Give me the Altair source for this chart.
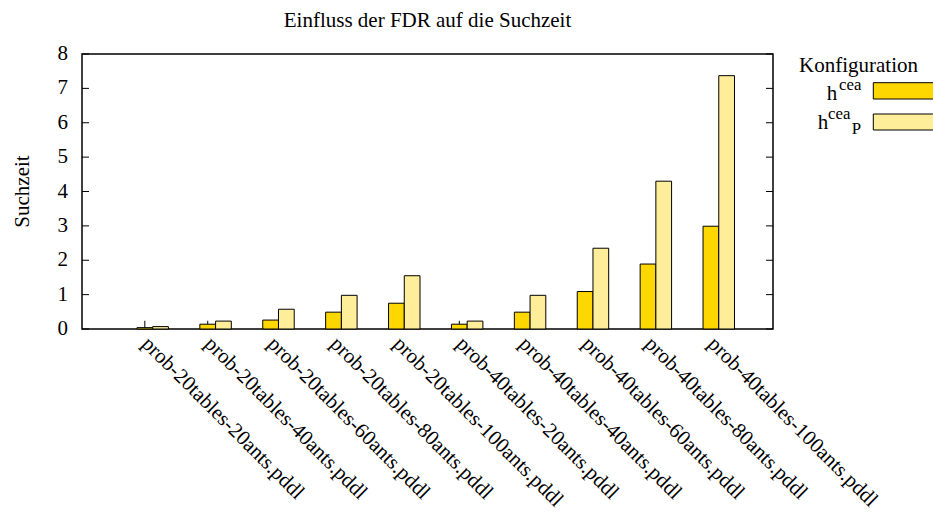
import altair as alt
import pandas as pd

# Problem instances (x categories)
categories = [
    "prob-20tables-20ants.pddl",
    "prob-20tables-40ants.pddl",
    "prob-20tables-60ants.pddl",
    "prob-20tables-80ants.pddl",
    "prob-20tables-100ants.pddl",
    "prob-40tables-20ants.pddl",
    "prob-40tables-40ants.pddl",
    "prob-40tables-60ants.pddl",
    "prob-40tables-80ants.pddl",
    "prob-40tables-100ants.pddl",
]

# Search time per configuration
hcea = [0.04, 0.14, 0.26, 0.49, 0.75, 0.14, 0.49, 1.09, 1.89, 2.99]
hcea_p = [0.07, 0.23, 0.575, 0.98, 1.55, 0.23, 0.98, 2.35, 4.30, 7.37]
# Error (upper) for h^cea
hcea_err = [0.2, 0.1, 0, 0, 0, 0.1, 0, 0, 0, 0]

configs = ["hcea", "hcea_P"]
colors = ["#FFD700", "#FFEE99"]
y_ticks = [0, 1, 2, 3, 4, 5, 6, 7, 8]

FONT = "Liberation Serif"
FS = 21
W, H = 691, 275

rows = []
for i, c in enumerate(categories):
    rows.append({"category": c, "config": "hcea", "value": hcea[i], "err": hcea_err[i]})
    rows.append({"category": c, "config": "hcea_P", "value": hcea_p[i], "err": 0})
df = pd.DataFrame(rows)
df["top"] = df["value"] + df["err"]

ticks_df = pd.DataFrame({"value": y_ticks})
cat_df = pd.DataFrame({"category": categories})

# shared scales; axis guides are drawn as marks below
x_enc = alt.X(
    "category:N",
    sort=categories,
    scale=alt.Scale(domain=categories, paddingInner=0.5, paddingOuter=0.743, align=0.588),
    axis=None,
)
xo_enc = alt.XOffset("config:N", sort=configs, scale=alt.Scale(paddingInner=0, paddingOuter=0))
y_enc = alt.Y("value:Q", scale=alt.Scale(domain=[0, 8], nice=False, zero=True), axis=None)

bars = alt.Chart(df).mark_bar(stroke="black", strokeWidth=1).encode(
    x=x_enc,
    xOffset=xo_enc,
    y=y_enc,
    color=alt.Color("config:N", scale=alt.Scale(domain=configs, range=colors), legend=None),
)

errs = alt.Chart(df).transform_filter("datum.err > 0").mark_rule(
    color="black", strokeWidth=1
).encode(x=x_enc, xOffset=xo_enc, y=y_enc, y2="top:Q")

# inward ticks on the left and right border
tick_len = 7
left_ticks = alt.Chart(ticks_df).mark_rule(color="black", strokeWidth=1).encode(
    y=y_enc, x=alt.value(0), x2=alt.value(tick_len)
)
right_ticks = alt.Chart(ticks_df).mark_rule(color="black", strokeWidth=1).encode(
    y=y_enc, x=alt.value(W - tick_len), x2=alt.value(W)
)

# y tick labels
y_labels = alt.Chart(ticks_df).mark_text(
    font=FONT, fontSize=FS, align="right", baseline="middle", color="black"
).encode(y=y_enc, x=alt.value(-14), text=alt.Text("value:Q", format="d"))

# rotated category labels under each group
x_labels = alt.Chart(cat_df).mark_text(
    font=FONT, fontSize=FS, align="left", baseline="top", angle=45, color="black"
).encode(x=x_enc, y=alt.value(H + 4), text="category:N")

one = pd.DataFrame({"k": [0]})


def label(txt, x, y, size, align="left", angle=0):
    return alt.Chart(one).mark_text(
        text=txt, font=FONT, fontSize=size, align=align, baseline="alphabetic",
        color="black", angle=angle,
    ).encode(x=alt.value(x), y=alt.value(y))


y_title = label("Suchzeit", -53, H / 2, FS, "center", 270)
title = label("Einfluss der FDR auf die Suchzeit", W / 2, -27.3, FS, "center")

# key: title, colour samples, labels with super/subscripts
key_title = label("Konfiguration", 776.5, 18.3, FS, "center")
key_box1 = alt.Chart(one).mark_rect(fill=colors[0], stroke="black", strokeWidth=1).encode(
    x=alt.value(791.3), x2=alt.value(860), y=alt.value(28.7), y2=alt.value(45)
)
key_box2 = alt.Chart(one).mark_rect(fill=colors[1], stroke="black", strokeWidth=1).encode(
    x=alt.value(791.3), x2=alt.value(860), y=alt.value(60), y2=alt.value(76)
)

SUP = FS * 0.8
key_labels = [
    label("h", 744.7, 46, FS),
    label("cea", 757, 36, SUP),
    label("h", 735.7, 75.3, FS),
    label("cea", 746, 65.3, SUP),
    label("P", 769.7, 80, SUP),
]

chart = alt.layer(
    bars, errs, left_ticks, right_ticks, y_labels, x_labels, y_title, title,
    key_title, key_box1, key_box2, *key_labels
).properties(
    width=W,
    height=H,
    padding={"left": 82, "top": 54, "right": 160, "bottom": 184},
    autosize=alt.AutoSizeParams(type="none"),
).configure(
    background="white",
    font=FONT,
).configure_view(
    stroke="black", strokeWidth=1.5
)

chart.save("out.html", embed_options={"renderer": "svg", "actions": False})
